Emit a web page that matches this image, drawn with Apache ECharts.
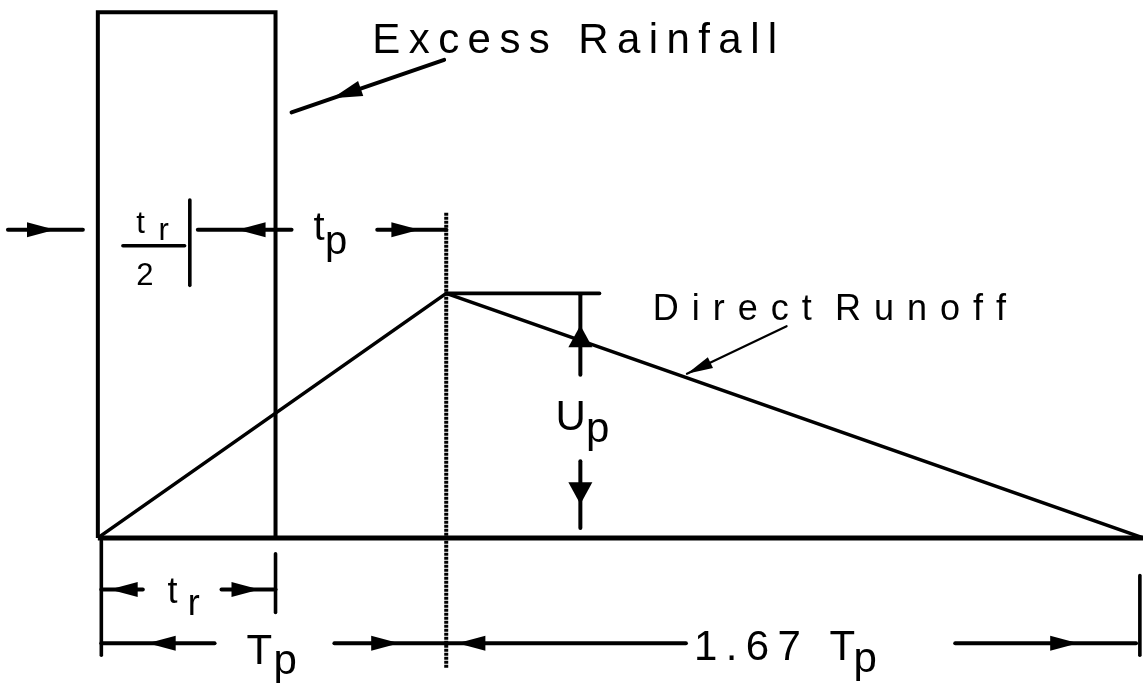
<!DOCTYPE html>
<html>
<head>
<meta charset="utf-8">
<script src="https://cdn.jsdelivr.net/npm/echarts@6/dist/echarts.min.js"></script>
<style>
html,body{margin:0;padding:0;background:#fff;}
#chart{width:1143px;height:686px;}
</style>
</head>
<body>
<div id="chart"></div>
<script>
// ---------- DATA (time: Tp = 10 units, discharge: Up = 10 units) ----------
const rainfallT = [0, 0, 5.1, 5.1];
const rainfallQ = [0, 21.5, 21.5, 0];
const hydroT = [0, 10, 30];
const hydroQ = [0, 10, 0];
const baseT = [0, 30];
const baseQ = [0, 0];
const peakLineT = [10, 10];
const peakLineQ = [13.3, -5.33];

// plain segments: [t1, q1, t2, q2]
const segments = [
  [10, 10, 14.4, 10],        // peak level line
  [2.64, 13.82, 2.64, 10.33],// tr/2 tick
  [0.72, 11.95, 2.49, 11.95],// fraction bar
  [0.1, -0.12, 0.1, -4.8],   // left tick (origin)
  [5.1, -0.65, 5.1, -3.05],  // tr end tick
  [29.91, -1.54, 29.91, -4.8]// base end tick
];

// dimension arrows: [fromT, fromQ, toT, toQ, tipT, tipQ] (head points toward "to")
const dimArrows = [
  [-2.58, 12.6, -0.43, 12.6, -1.23, 12.6],
  [5.56, 12.6, 2.87, 12.6, 4.01, 12.6],
  [8.02, 12.6, 10, 12.6, 9.23, 12.6],
  [1.29, -2.11, 0.1, -2.11, 0.34, -2.11],
  [3.55, -2.11, 5.1, -2.11, 4.64, -2.11],
  [3.35, -4.31, 0.1, -4.31, 1.43, -4.31],
  [6.79, -4.31, 10, -4.31, 8.65, -4.31],
  [16.88, -4.31, 10, -4.31, 10.32, -4.31],
  [24.61, -4.31, 29.8, -4.31, 28.14, -4.31]
];
const upArrows = [
  [13.85, 6.67, 13.85, 9.92, 13.85, 8.7],
  [13.85, 3.13, 13.85, 0.41, 13.85, 1.38]
];
const rainPointer = [[9.94, 19.55, 5.56, 17.4, 6.73, 17.98]];
const runoffPointer = [[19.77, 8.66, 16.91, 6.71, 16.91, 6.71]];

// labels
const TS = '\u2009';
const HS = ' \u200A';
const labelText = [
  ['E','x','c','e','s','s'].join(TS) + ' ' + TS + TS + ['R','a','i','n','f','a','l','l'].join(TS),
  ['D','i','r','e','c','t'].join(HS) + '  \u200A' + ['R','u','n','o','f','f'].join(HS),
  'U', 'p',
  't', 'p',
  't', 'r', '2',
  't', 'r',
  'T', 'p',
  '1' + TS + '.' + TS + '6' + TS + '7 ' + TS + TS + 'T', 'p'
];
const labelT = [7.88, 15.93, 13.14, 14.01, 6.19, 6.52, 1.1, 1.74, 1.1, 2.0, 2.58, 4.27, 5.04, 17.11, 21.69];
const labelQ = [20.31, 9.33, 4.87, 4.38, 12.64, 12.08, 12.82, 12.55, 10.68, -2.25, -2.73, -4.69, -5.09, -4.52, -5.0];

// ---------- STYLE ----------
const labelFontPx = [42, 36, 42, 42, 40, 40, 31, 31, 31, 36, 36, 42, 42, 42, 42];
const FONT = '"Liberation Sans", Arial, Helvetica, sans-serif';
const zip = (a, b) => a.map((v, i) => [v, b[i]]);

function arrowSeries(data, head) {
  return {
    type: 'custom',
    coordinateSystem: 'cartesian2d',
    data: data,
    silent: true,
    renderItem: function (params, api) {
      const p1 = api.coord([api.value(0), api.value(1)]);
      const p2 = api.coord([api.value(2), api.value(3)]);
      const tip = api.coord([api.value(4), api.value(5)]);
      const dx = p2[0] - p1[0], dy = p2[1] - p1[1];
      const len = Math.hypot(dx, dy);
      const ux = dx / len, uy = dy / len;
      const bx = tip[0] - ux * head.len, by = tip[1] - uy * head.len;
      const nx = -uy, ny = ux;
      return {
        type: 'group',
        children: [
          { type: 'line', shape: { x1: p1[0], y1: p1[1], x2: p2[0], y2: p2[1] },
            style: { stroke: '#000', lineWidth: head.lw, lineCap: 'round' } },
          { type: 'polygon',
            shape: { points: [[tip[0], tip[1]],
                              [bx + nx * head.w / 2, by + ny * head.w / 2],
                              [bx - nx * head.w / 2, by - ny * head.w / 2]] },
            style: { fill: '#000' } }
        ]
      };
    }
  };
}

const chart = echarts.init(document.getElementById('chart'), null, { renderer: 'canvas' });
chart.setOption({
  animation: false,
  backgroundColor: '#fff',
  grid: { left: 0.3, right: -1.7, top: -4.2, bottom: 1.4, containLabel: false },
  xAxis: { type: 'value', min: -2.8, max: 30, show: false },
  yAxis: { type: 'value', min: -6, max: 22, show: false },
  series: [
    { type: 'line', data: zip(rainfallT, rainfallQ), symbol: 'none', silent: true, clip: false,
      lineStyle: { color: '#000', width: 4, join: 'miter' } },
    { type: 'line', data: zip(baseT, baseQ), symbol: 'none', silent: true, clip: false,
      lineStyle: { color: '#000', width: 5 } },
    { type: 'line', data: zip(hydroT, hydroQ), symbol: 'none', silent: true, clip: false,
      lineStyle: { color: '#000', width: 3.6 } },
    { type: 'line', data: zip(peakLineT, peakLineQ), symbol: 'none', silent: true, clip: false,
      lineStyle: { color: '#000', width: 4, type: [3, 1] } },
    {
      type: 'custom', coordinateSystem: 'cartesian2d', data: segments, silent: true,
      renderItem: function (params, api) {
        const p1 = api.coord([api.value(0), api.value(1)]);
        const p2 = api.coord([api.value(2), api.value(3)]);
        return { type: 'line', shape: { x1: p1[0], y1: p1[1], x2: p2[0], y2: p2[1] },
                 style: { stroke: '#000', lineWidth: 3.6, lineCap: 'round' } };
      }
    },
    arrowSeries(dimArrows, { len: 28, w: 15, lw: 4 }),
    arrowSeries(upArrows, { len: 22, w: 24, lw: 4 }),
    arrowSeries(rainPointer, { len: 30, w: 16, lw: 4 }),
    arrowSeries(runoffPointer, { len: 26, w: 12, lw: 2.2 }),
    {
      type: 'custom', coordinateSystem: 'cartesian2d', data: zip(labelT, labelQ), silent: true,
      renderItem: function (params, api) {
        const p = api.coord([api.value(0), api.value(1)]);
        const i = params.dataIndex;
        return { type: 'text', x: p[0], y: p[1],
                 style: { text: labelText[i], fill: '#000',
                          font: labelFontPx[i] + 'px ' + FONT,
                          align: 'left', verticalAlign: 'middle' } };
      }
    }
  ]
});
</script>
</body>
</html>
